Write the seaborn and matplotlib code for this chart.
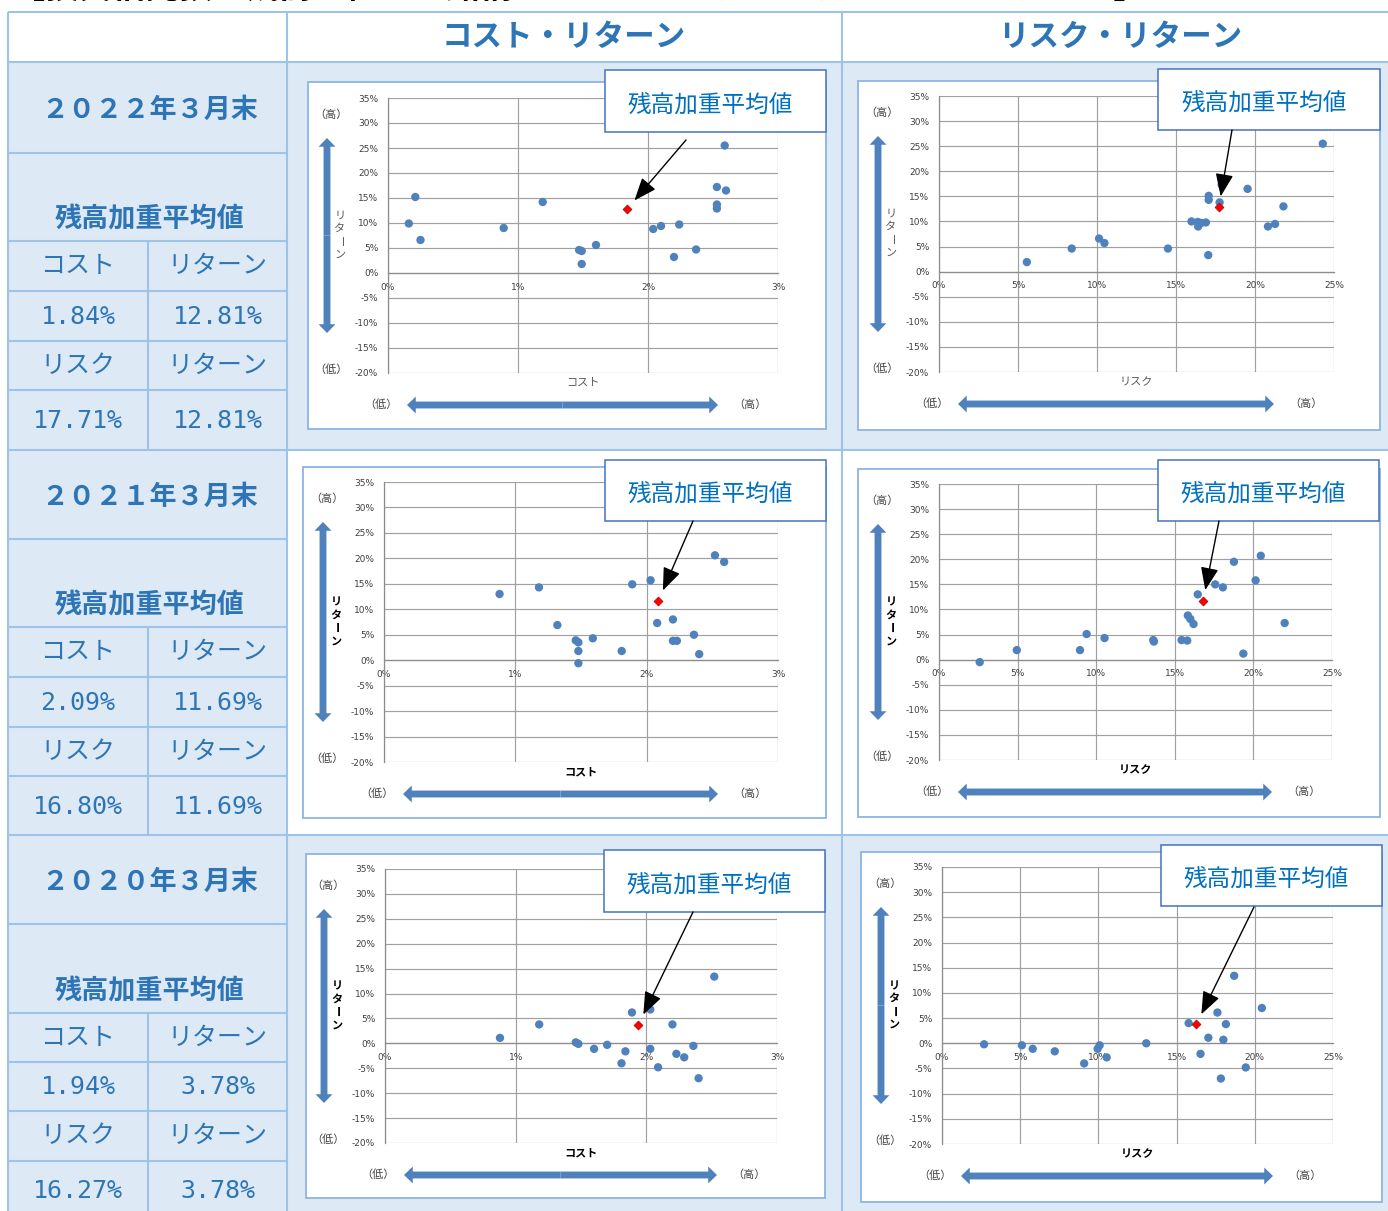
import matplotlib
matplotlib.use("Agg")
import matplotlib.pyplot as plt
import seaborn as sns
import pandas as pd
from matplotlib.patches import Rectangle, FancyArrowPatch, ArrowStyle
from matplotlib.ticker import FuncFormatter

sns.set_theme(style="white")
plt.rcParams['font.family'] = ['Noto Sans CJK JP', 'DejaVu Sans']

# ---------------- data ----------------
title_text = "【投資信託預り残高上位２０銘柄のコスト・リターン、リスク・リターン】"
col_headers = ["コスト・リターン", "リスク・リターン"]
year_labels = ["２０２２年３月末", "２０２１年３月末", "２０２０年３月末"]
wavg_label = "残高加重平均値"
wavg_cost = [1.84, 2.09, 1.94]
wavg_risk = [17.71, 16.80, 16.27]
wavg_return = [12.81, 11.69, 3.78]

cost_2022 = [0.21, 0.16, 0.25, 0.89, 1.19, 1.47, 1.49, 1.49, 1.60, 2.04, 2.10, 2.24, 2.20, 2.37, 2.53, 2.60, 2.53, 2.53, 2.59]
cost_ret_2022 = [15.2, 9.9, 6.6, 9.0, 14.2, 4.6, 4.4, 1.8, 5.6, 8.8, 9.4, 9.7, 3.2, 4.7, 17.2, 16.5, 13.7, 12.9, 25.5]
risk_2022 = [5.56, 8.40, 10.13, 10.47, 14.49, 15.98, 16.38, 16.40, 16.60, 16.89, 17.07, 17.07, 17.04, 17.89, 17.76, 19.53, 20.82, 21.27, 21.80, 24.29]
risk_ret_2022 = [1.9, 4.6, 6.6, 5.7, 4.6, 10.0, 9.9, 9.0, 9.7, 9.8, 15.1, 14.3, 3.3, 17.3, 13.8, 16.5, 9.0, 9.5, 13.0, 25.5]

cost_2021 = [0.88, 1.18, 1.32, 1.46, 1.48, 1.48, 1.48, 1.59, 1.81, 1.89, 2.03, 2.08, 2.20, 2.20, 2.23, 2.36, 2.40, 2.52, 2.59]
cost_ret_2021 = [13.0, 14.3, 6.9, 3.9, 3.5, 1.8, -0.6, 4.3, 1.8, 14.9, 15.7, 7.3, 8.0, 3.8, 3.8, 5.0, 1.2, 20.6, 19.3]
risk_2021 = [2.59, 4.95, 8.97, 9.39, 10.53, 13.63, 13.67, 15.43, 15.79, 15.83, 15.99, 16.19, 16.46, 17.57, 18.06, 18.76, 19.36, 20.14, 20.47, 21.99]
risk_ret_2021 = [-0.5, 1.9, 1.9, 5.1, 4.3, 3.9, 3.6, 3.9, 3.8, 8.8, 8.1, 7.1, 13.0, 15.0, 14.4, 19.5, 1.2, 15.8, 20.7, 7.3]

cost_2020 = [0.88, 1.18, 1.46, 1.48, 1.60, 1.70, 1.81, 1.84, 1.89, 2.03, 2.03, 2.09, 2.20, 2.23, 2.29, 2.36, 2.40, 2.52]
cost_ret_2020 = [1.1, 3.8, 0.2, -0.1, -1.1, -0.3, -4.0, -1.6, 6.2, 6.8, -1.1, -4.8, 3.8, -2.1, -2.8, -0.5, -7.0, 13.4]
risk_2020 = [2.69, 5.11, 5.80, 7.21, 9.09, 9.95, 10.08, 10.53, 13.06, 15.77, 16.53, 17.03, 17.61, 17.99, 18.15, 17.83, 18.68, 19.42, 20.45]
risk_ret_2020 = [-0.2, -0.4, -1.1, -1.6, -4.0, -1.1, -0.4, -2.8, 0.0, 4.0, -2.1, 1.1, 6.1, 0.7, 3.8, -7.0, 13.4, -4.8, 7.0]

cost_ticks = [0, 1, 2, 3]
risk_ticks = [0, 5, 10, 15, 20, 25]
return_ticks = [-20, -15, -10, -5, 0, 5, 10, 15, 20, 25, 30, 35]

# ---------------- layout (pixels) ----------------
W, H = 1388, 1211
fig = plt.figure(figsize=(W / 100, H / 100), dpi=100)
fig.patch.set_facecolor('white')

def overlay(z):
    a = fig.add_axes([0, 0, 1, 1], zorder=z)
    a.set_xlim(0, W)
    a.set_ylim(H, 0)
    a.axis('off')
    a.patch.set_alpha(0)
    return a

ax_bg = overlay(0)
ax_fg = overlay(5)

BG = '#dde9f5'
GRID = '#9dc3e6'
TXT = '#2e75b6'
BLUE = '#4f81bd'

col_x = [8, 287, 842, 1392]
row_y = [12, 62, 450, 835, 1215]
sub_rows = [[62, 153, 241, 291, 341, 390, 450],
            [450, 539, 627, 677, 727, 776, 835],
            [835, 924, 1013, 1062, 1111, 1161, 1215]]
sub_x = 148

def rect(ax, x0, y0, x1, y1, **kw):
    ax.add_patch(Rectangle((x0, y0), x1 - x0, y1 - y0, **kw))

# cell fills
for r in range(3):
    y0, y1 = row_y[r + 1], row_y[r + 2]
    rect(ax_bg, col_x[0], y0, col_x[1], y1, facecolor=BG, edgecolor='none', zorder=1)
    if r != 1:
        rect(ax_bg, col_x[1], y0, col_x[3], y1, facecolor=BG, edgecolor='none', zorder=1)

# grid lines of the table
lw_t = 1.5
for y in row_y[:4]:
    ax_bg.plot([col_x[0], col_x[3]], [y, y], color=GRID, lw=lw_t, zorder=2, solid_capstyle='butt')
for x in col_x[:3]:
    ax_bg.plot([x, x], [row_y[0], row_y[-1]], color=GRID, lw=lw_t, zorder=2, solid_capstyle='butt')
for r in range(3):
    s = sub_rows[r]
    for y in s[1:6]:
        ax_bg.plot([col_x[0], col_x[1]], [y, y], color=GRID, lw=lw_t, zorder=2, solid_capstyle='butt')
    ax_bg.plot([sub_x, sub_x], [s[2], s[6]], color=GRID, lw=lw_t, zorder=2, solid_capstyle='butt')

# title (cut off at the top edge, as in the source image)
ax_bg.text(12, -2, title_text, ha='left', va='baseline', fontsize=24, fontweight='bold', color='black', zorder=3)

# header texts
ax_bg.text(564, 37, col_headers[0], ha='center', va='center', fontsize=22, fontweight='bold', color=TXT, zorder=3)
ax_bg.text(1120, 37, col_headers[1], ha='center', va='center', fontsize=22, fontweight='bold', color=TXT, zorder=3)

# left column texts
cx_full = (col_x[0] + col_x[1]) / 2 + 2
cx_l = (col_x[0] + sub_x) / 2
cx_r = (sub_x + col_x[1]) / 2
mono = ['DejaVu Sans Mono']
for r in range(3):
    s = sub_rows[r]
    ax_bg.text(cx_full, (s[0] + s[1]) / 2 + 2, year_labels[r], ha='center', va='center',
               fontsize=19.5, fontweight='bold', color=TXT, zorder=3)
    ax_bg.text(cx_full, s[2] - 22, wavg_label, ha='center', va='center',
               fontsize=19.5, fontweight='bold', color=TXT, zorder=3)
    ax_bg.text(cx_l, (s[2] + s[3]) / 2, "コスト", ha='center', va='center', fontsize=18, color=TXT, zorder=3)
    ax_bg.text(cx_r, (s[2] + s[3]) / 2, "リターン", ha='center', va='center', fontsize=18, color=TXT, zorder=3)
    ax_bg.text(cx_l, (s[3] + s[4]) / 2 + 1, f"{wavg_cost[r]:.2f}%", ha='center', va='center', fontsize=18, color=TXT, family=mono, zorder=3)
    ax_bg.text(cx_r, (s[3] + s[4]) / 2 + 1, f"{wavg_return[r]:.2f}%", ha='center', va='center', fontsize=18, color=TXT, family=mono, zorder=3)
    ax_bg.text(cx_l, (s[4] + s[5]) / 2, "リスク", ha='center', va='center', fontsize=18, color=TXT, zorder=3)
    ax_bg.text(cx_r, (s[4] + s[5]) / 2, "リターン", ha='center', va='center', fontsize=18, color=TXT, zorder=3)
    vy = (s[5] + s[6]) / 2 + 1 if r < 2 else s[5] + 30
    ax_bg.text(cx_l, vy, f"{wavg_risk[r]:.2f}%", ha='center', va='center', fontsize=18, color=TXT, family=mono, zorder=3)
    ax_bg.text(cx_r, vy, f"{wavg_return[r]:.2f}%", ha='center', va='center', fontsize=18, color=TXT, family=mono, zorder=3)

# panel geometry: frame, plot area (x0, x1, ytop, ybot), callout box, arrow tail
panels = [
    [dict(frame=(308, 82, 826, 429), plot=(388, 778, 98, 373), callout=(605, 70, 826, 132), tail=(686, 140)),
     dict(frame=(858, 81, 1380, 430), plot=(939, 1334, 96, 372), callout=(1158, 69, 1380, 130), tail=(1232, 130))],
    [dict(frame=(303, 467, 826, 818), plot=(384, 778, 482, 762), callout=(605, 460, 826, 521), tail=(693, 521)),
     dict(frame=(858, 469, 1380, 817), plot=(939, 1332, 484, 760), callout=(1158, 460, 1379, 521), tail=(1219, 521))],
    [dict(frame=(306, 854, 825, 1198), plot=(385, 777, 869, 1143), callout=(604, 850, 825, 912), tail=(693, 912)),
     dict(frame=(861, 852, 1382, 1202), plot=(942, 1333, 867, 1144), callout=(1161, 845, 1382, 906), tail=(1254, 907))],
]

series = [
    [(cost_2022, cost_ret_2022), (risk_2022, risk_ret_2022)],
    [(cost_2021, cost_ret_2021), (risk_2021, risk_ret_2021)],
    [(cost_2020, cost_ret_2020), (risk_2020, risk_ret_2020)],
]
xlabels = ["コスト", "リスク"]
pct = FuncFormatter(lambda v, p: f"{v:.0f}%")


def double_arrow(ax, p0, p1):
    mid = ((p0[0] + p1[0]) / 2, (p0[1] + p1[1]) / 2)
    style = ArrowStyle("simple", head_length=0.7, head_width=1.35, tail_width=0.55)
    for end in (p0, p1):
        ax.add_patch(FancyArrowPatch(mid, end, arrowstyle=style, mutation_scale=9,
                                     color=BLUE, lw=0, shrinkA=0, shrinkB=0, zorder=3))


for r in range(3):
    for c in range(2):
        g = panels[r][c]
        fx0, fy0, fx1, fy1 = g['frame']
        rect(ax_bg, fx0, fy0, fx1, fy1, facecolor='white', edgecolor='#8eb4e3', lw=1.3, zorder=2.5)
        x0, x1, yt, yb = g['plot']
        ax = fig.add_axes([x0 / W, 1 - yb / H, (x1 - x0) / W, (yb - yt) / H], zorder=2)
        xs, ys = series[r][c]
        df = pd.DataFrame({'x': xs, 'y': ys})
        sns.scatterplot(data=df, x='x', y='y', ax=ax, color=BLUE, s=36, edgecolor='none',
                        linewidth=0, zorder=3, clip_on=False)
        mx = wavg_cost[r] if c == 0 else wavg_risk[r]
        my = wavg_return[r]
        sns.scatterplot(x=[mx], y=[my], ax=ax, marker='D', color='#ff0000', edgecolor='#c00000',
                        linewidth=0.6, s=20, zorder=4, clip_on=False)
        xt = cost_ticks if c == 0 else risk_ticks
        ax.set_xlim(xt[0], xt[-1])
        ax.set_ylim(return_ticks[0], return_ticks[-1])
        ax.set_xticks(xt)
        ax.set_yticks(return_ticks)
        ax.xaxis.set_major_formatter(pct)
        ax.yaxis.set_major_formatter(pct)
        ax.grid(True, color='#a0a0a0', lw=0.85)
        ax.set_axisbelow(True)
        ax.set_facecolor('white')
        for sp in ['top', 'right']:
            ax.spines[sp].set_visible(False)
        ax.spines['bottom'].set_position(('data', 0))
        for sp in ['bottom', 'left']:
            ax.spines[sp].set_color('#8c8c8c')
            ax.spines[sp].set_linewidth(0.9)
        ax.tick_params(axis='x', length=0, labelsize=6.5, labelcolor='#404040', pad=7)
        ax.tick_params(axis='y', length=0, labelsize=6.5, labelcolor='#404040', pad=7)
        for lab in ax.get_xticklabels() + ax.get_yticklabels():
            lab.set_family(['DejaVu Sans'])
        ax.set_xlabel('')
        ax.set_ylabel('')

        bold = 'bold' if r > 0 else 'normal'
        tcol = 'black' if r > 0 else '#595959'
        # side labels
        ax_fg.text(x0 - 57, yt + 17, "（高）", ha='center', va='center', fontsize=8, color='#404040')
        ax_fg.text(x0 - 57, yb - 3, "（低）", ha='center', va='center', fontsize=8, color='#404040')
        double_arrow(ax_fg, (x0 - 61, yt + 40), (x0 - 61, yb - 40))
        ym = (yt + yb) / 2
        for k, ch in enumerate("リターン"):
            ax_fg.text(x0 - 48, ym - 20 + k * 13, ch, ha='center', va='center', fontsize=8,
                       color=tcol, fontweight=bold, rotation=-90 if ch == 'ー' else 0)
        ax_fg.text((x0 + x1) / 2, yb + 10, xlabels[c], ha='center', va='center', fontsize=8,
                   color=tcol, fontweight=bold)
        double_arrow(ax_fg, (x0 + 19, yb + 32), (x1 - 60, yb + 32))
        ax_fg.text(x0 - 7, yb + 32, "（低）", ha='center', va='center', fontsize=8, color='#404040')
        ax_fg.text(x1 - 28, yb + 32, "（高）", ha='center', va='center', fontsize=8, color='#404040')

        # callout
        bx0, by0, bx1, by1 = g['callout']
        rect(ax_fg, bx0, by0, bx1, by1, facecolor='white', edgecolor='#4472c4', lw=1.1, zorder=4)
        ax_fg.text((bx0 + bx1) / 2 - 5, (by0 + by1) / 2 + 5, wavg_label, ha='center', va='center',
                   fontsize=17, color='#0070c0', zorder=5)
        ax_fg.annotate('', xy=(mx, my), xycoords=ax.transData, xytext=g['tail'], textcoords='data',
                       arrowprops=dict(arrowstyle=ArrowStyle('-|>', head_length=1.4, head_width=0.55),
                                       mutation_scale=10, color='black', lw=1.0,
                                       shrinkA=0, shrinkB=8), zorder=6)

fig.savefig("out.png", dpi=100, facecolor='white')
